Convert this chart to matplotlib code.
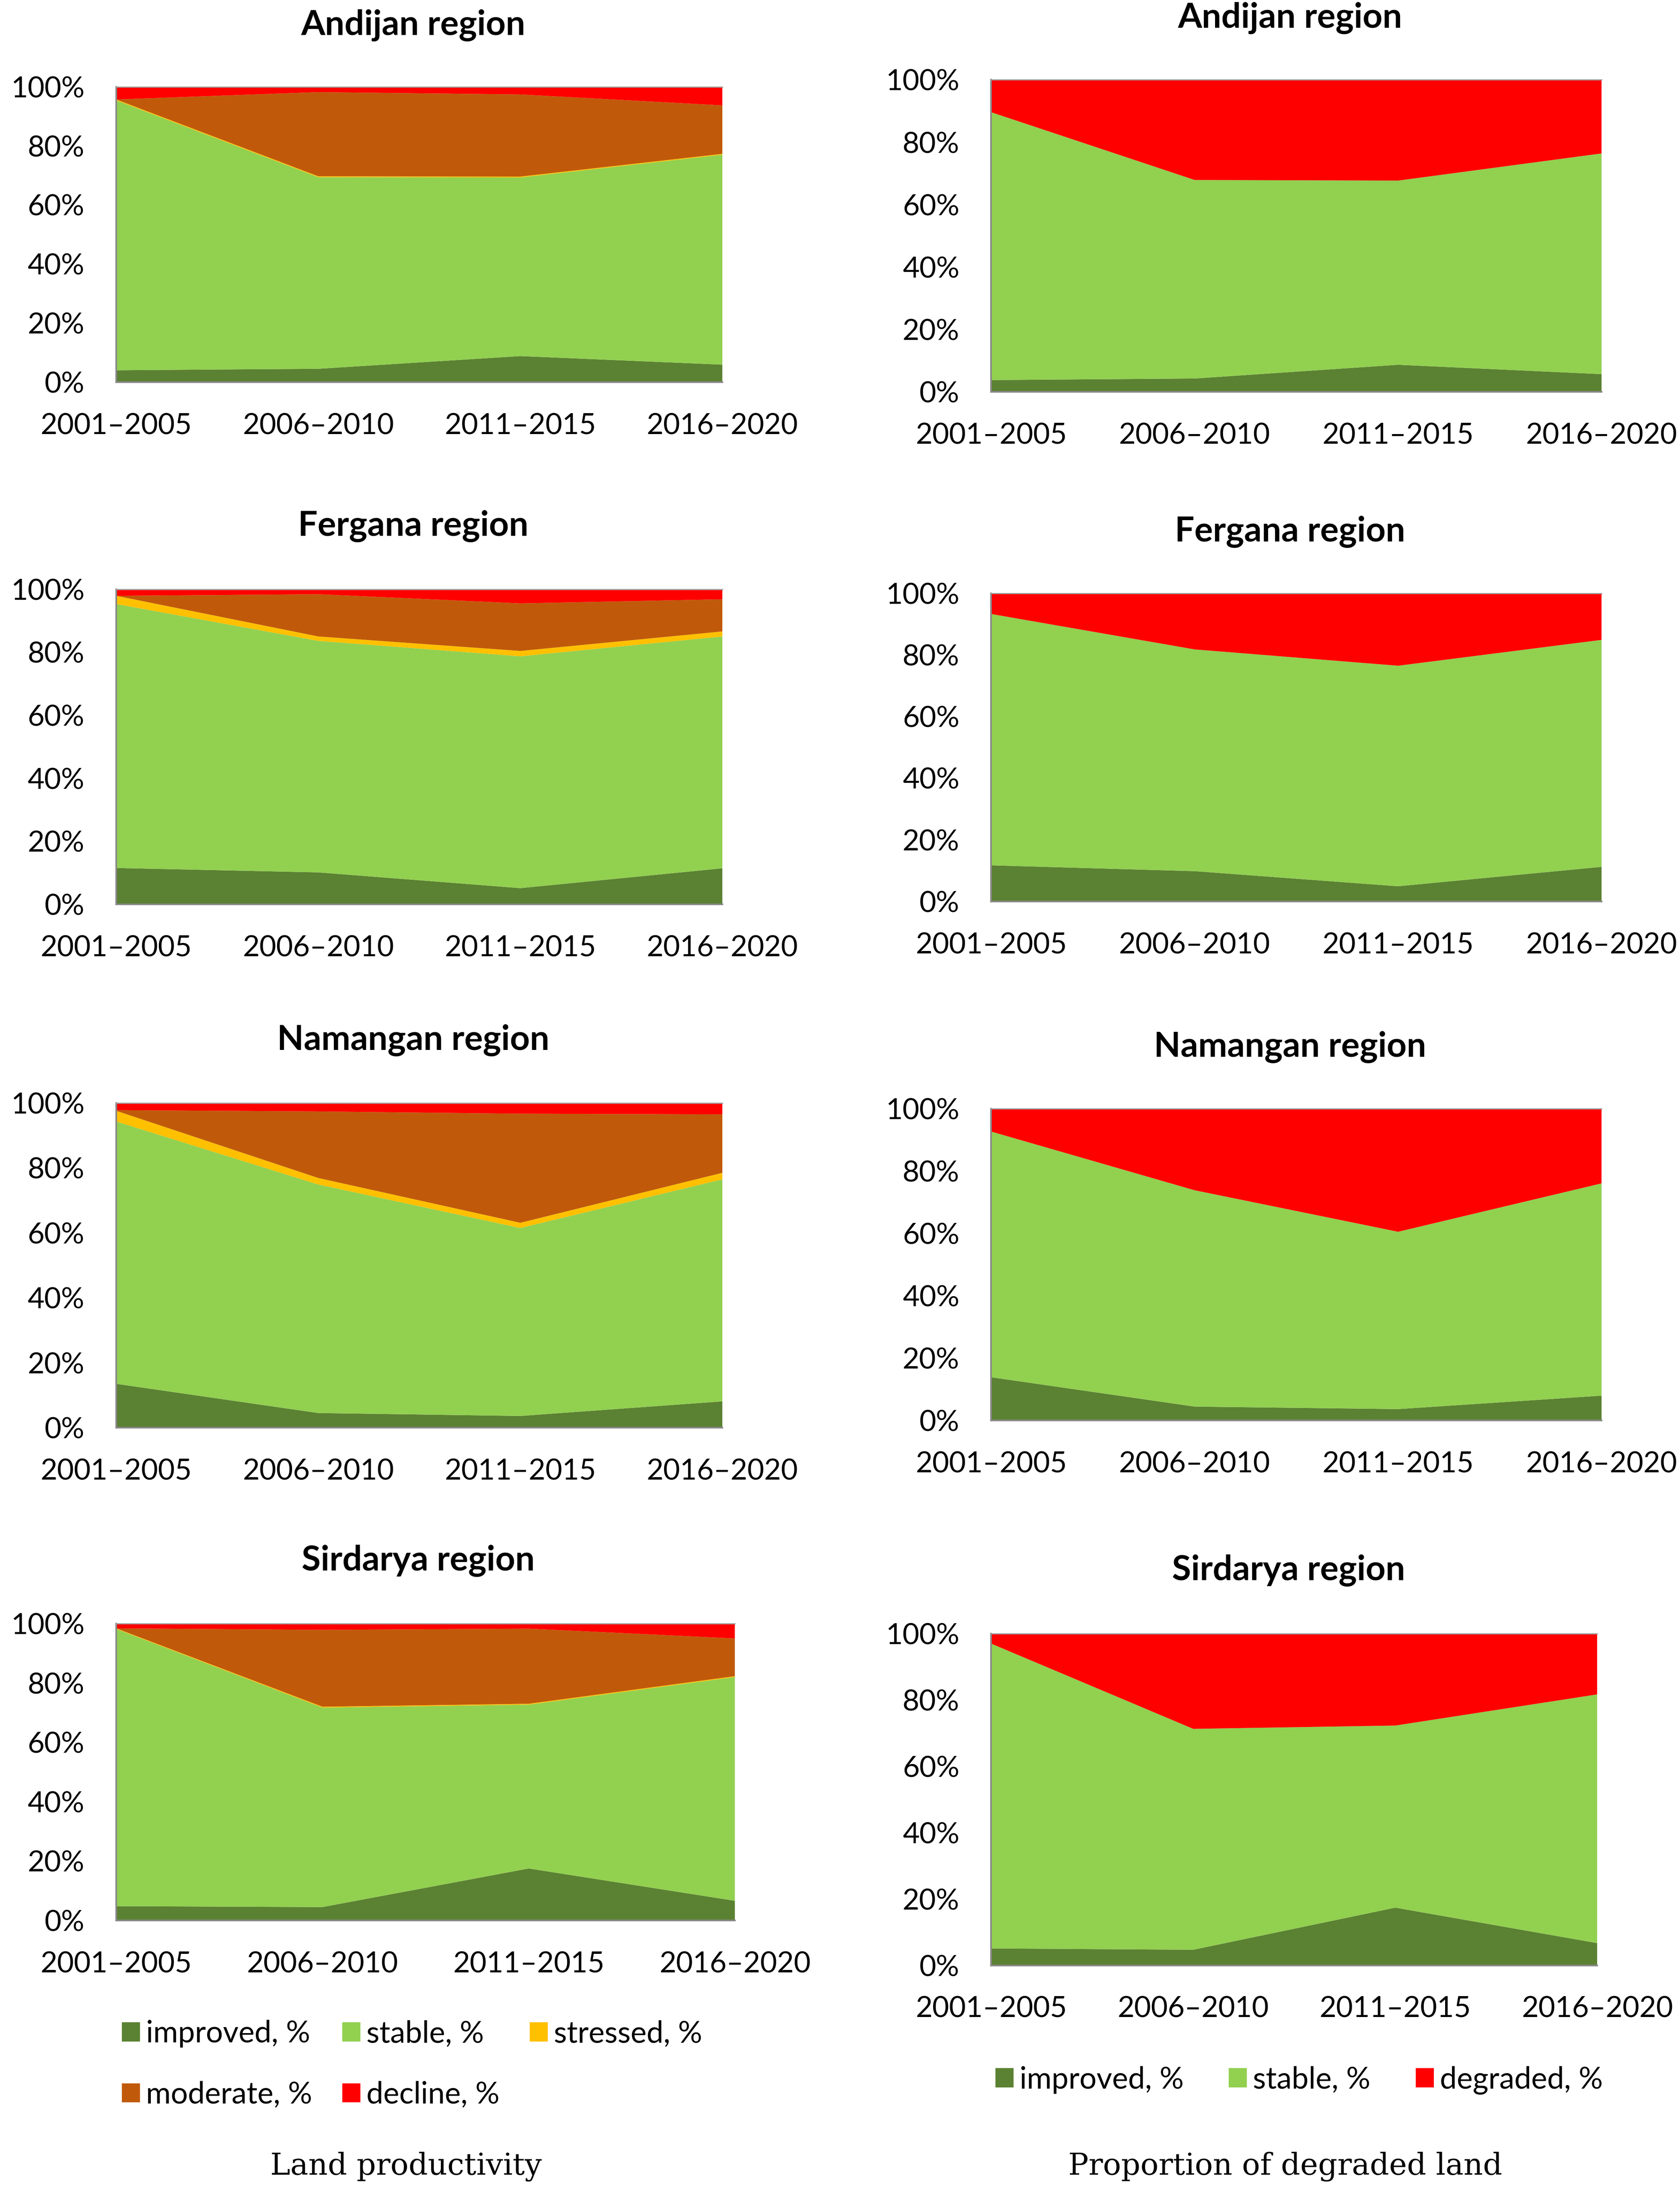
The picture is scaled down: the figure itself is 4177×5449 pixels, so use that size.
import matplotlib.pyplot as plt
from matplotlib.ticker import PercentFormatter

periods = ['2001–2005', '2006–2010', '2011–2015', '2016–2020']
regions = ['Andijan', 'Fergana', 'Namangan', 'Sirdarya']

# land productivity, share of area in %
lp_improved = {'Andijan': [4.0, 4.5, 8.8, 5.9], 'Fergana': [11.5, 10.1, 5.1, 11.4],
               'Namangan': [13.5, 4.5, 3.6, 8.1], 'Sirdarya': [4.8, 4.5, 17.5, 6.6]}
lp_stable = {'Andijan': [91.4, 64.9, 60.5, 71.1], 'Fergana': [83.8, 73.5, 73.6, 73.6],
             'Namangan': [80.8, 70.4, 57.9, 68.4], 'Sirdarya': [93.4, 67.2, 55.2, 75.4]}
lp_stressed = {'Andijan': [0.3, 0.3, 0.3, 0.3], 'Fergana': [2.6, 1.4, 1.7, 1.6],
               'Namangan': [3.3, 2.0, 1.6, 2.0], 'Sirdarya': [0.2, 0.3, 0.3, 0.3]}
lp_moderate = {'Andijan': [0.0, 28.5, 27.8, 16.4], 'Fergana': [0.0, 13.4, 15.1, 10.2],
               'Namangan': [0.2, 20.5, 33.6, 18.0], 'Sirdarya': [0.0, 25.9, 25.3, 12.7]}
lp_decline = {'Andijan': [4.3, 1.8, 2.6, 6.3], 'Fergana': [2.1, 1.6, 4.5, 3.2],
              'Namangan': [2.2, 2.6, 3.3, 3.5], 'Sirdarya': [1.6, 2.1, 1.7, 5.0]}

# proportion of degraded land, %
dl_improved = {'Andijan': [3.8, 4.3, 8.7, 5.7], 'Fergana': [11.7, 9.8, 4.9, 11.2],
               'Namangan': [13.9, 4.5, 3.7, 8.0], 'Sirdarya': [5.1, 4.7, 17.4, 6.7]}
dl_stable = {'Andijan': [85.8, 63.6, 59.0, 70.7], 'Fergana': [81.6, 72.0, 71.6, 73.7],
             'Namangan': [78.7, 69.3, 56.8, 68.0], 'Sirdarya': [91.9, 66.6, 54.9, 75.0]}
dl_degraded = {'Andijan': [10.4, 32.1, 32.3, 23.6], 'Fergana': [6.7, 18.2, 23.5, 15.1],
               'Namangan': [7.4, 26.2, 39.5, 24.0], 'Sirdarya': [3.0, 28.7, 27.7, 18.3]}

c_improved = '#5B8132'
c_stable = '#92D050'
c_stressed = '#FFC000'
c_moderate = '#C05A0A'
c_decline = '#FF0000'

plt.rcParams['font.family'] = ['Lato', 'DejaVu Sans']
fs = 52
fs_title = 62
fs_legend = 54

fig = plt.figure(figsize=(41.77, 54.49), dpi=100)

# axes boxes [left, bottom, width, height] in figure fraction
left_boxes = [[0.0692, 0.8257, 0.3608, 0.1347],
              [0.0692, 0.5875, 0.3608, 0.1437],
              [0.0692, 0.3487, 0.3608, 0.1481],
              [0.0692, 0.1239, 0.3683, 0.1354]]
right_boxes = [[0.5900, 0.8212, 0.3633, 0.1424],
               [0.5900, 0.5888, 0.3633, 0.1405],
               [0.5900, 0.3519, 0.3633, 0.1424],
               [0.5900, 0.1034, 0.3608, 0.1513]]
left_titles = [(0.246, 0.9885), (0.246, 0.7599), (0.246, 0.5255), (0.249, 0.2880)]
right_titles = [(0.768, 0.9917), (0.768, 0.7573), (0.768, 0.5223), (0.767, 0.2835)]


def styleAxes(ax):
    ax.set_xlim(0, 3)
    ax.set_ylim(0, 100)
    ax.set_xticks(range(len(periods)))
    ax.set_xticklabels(periods)
    ax.set_yticks(range(0, 101, 20))
    ax.yaxis.set_major_formatter(PercentFormatter(decimals=0))
    ax.tick_params(axis='both', length=0, labelsize=fs)
    ax.tick_params(axis='x', pad=55)
    ax.tick_params(axis='y', pad=57)
    for side in ['left', 'bottom']:
        ax.spines[side].set_color('#888888')
        ax.spines[side].set_linewidth(3)
    ax.spines['top'].set_color('#A0A0A0')
    ax.spines['top'].set_linewidth(2)
    ax.spines['right'].set_visible(False)


x = list(range(len(periods)))
lp_handles = None
dl_handles = None
for i, reg in enumerate(regions):
    ax = fig.add_axes(left_boxes[i])
    lp_handles = ax.stackplot(x, lp_improved[reg], lp_stable[reg], lp_stressed[reg],
                              lp_moderate[reg], lp_decline[reg],
                              colors=[c_improved, c_stable, c_stressed, c_moderate, c_decline],
                              linewidth=0)
    styleAxes(ax)
    fig.text(left_titles[i][0], left_titles[i][1], reg + ' region', fontsize=fs_title,
             fontweight='bold', ha='center', va='center')

    ax = fig.add_axes(right_boxes[i])
    dl_handles = ax.stackplot(x, dl_improved[reg], dl_stable[reg], dl_degraded[reg],
                              colors=[c_improved, c_stable, c_decline], linewidth=0)
    styleAxes(ax)
    fig.text(right_titles[i][0], right_titles[i][1], reg + ' region', fontsize=fs_title,
             fontweight='bold', ha='center', va='center')

# left legend, reordered so it reads row by row
lp_labels = ['improved, %', 'stable, %', 'stressed, %', 'moderate, %', 'decline, %']
order = [0, 3, 1, 4, 2]
fig.legend([lp_handles[k] for k in order], [lp_labels[k] for k in order],
           loc='upper left', bbox_to_anchor=(0.0725, 0.0785), ncol=3, frameon=False,
           fontsize=fs_legend, handlelength=0.6, handleheight=0.6, handletextpad=0.2,
           columnspacing=1.0, labelspacing=1.1, borderpad=0, borderaxespad=0)

fig.legend(dl_handles, ['improved, %', 'stable, %', 'degraded, %'],
           loc='center left', bbox_to_anchor=(0.5925, 0.051), ncol=3, frameon=False,
           fontsize=fs_legend, handlelength=0.6, handleheight=0.6, handletextpad=0.2,
           columnspacing=1.5, borderpad=0, borderaxespad=0)

fig.text(0.2417, 0.0115, 'Land productivity', fontsize=54, family='DejaVu Serif',
         ha='center', va='center')
fig.text(0.765, 0.0115, 'Proportion of degraded land', fontsize=54, family='DejaVu Serif',
         ha='center', va='center')

fig.savefig('out.png', dpi=100, facecolor='white')
